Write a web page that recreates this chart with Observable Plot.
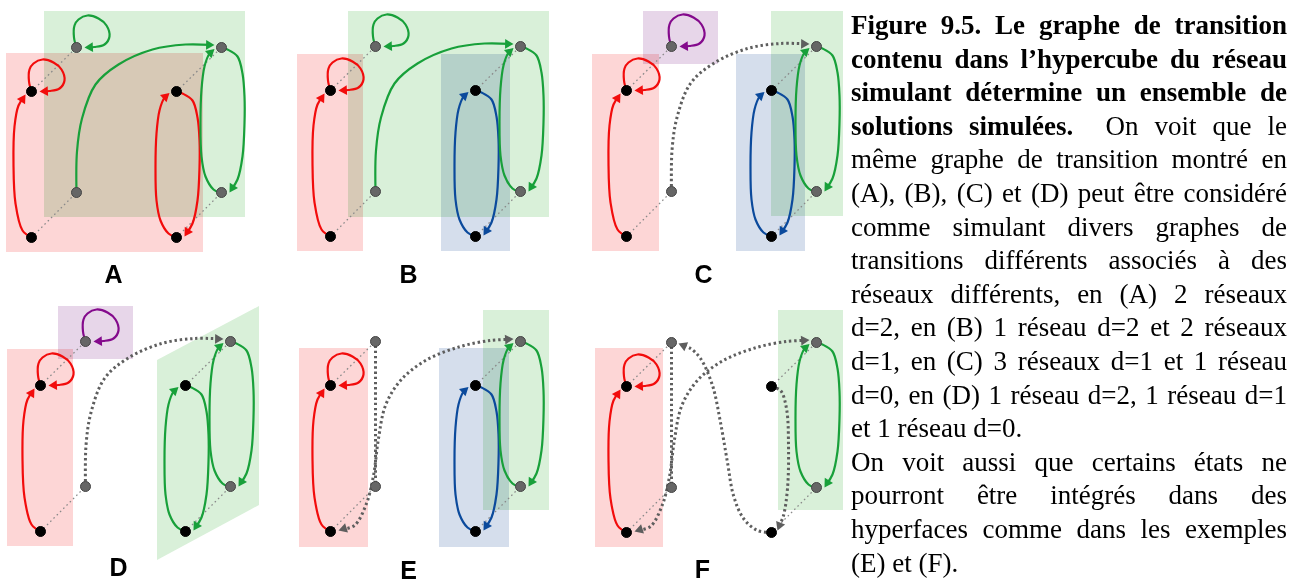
<!DOCTYPE html>
<html>
<head>
<meta charset="utf-8">
<script src="https://cdn.jsdelivr.net/npm/d3@7"></script>
<script src="https://cdn.jsdelivr.net/npm/@observablehq/plot@0.6"></script>
<style>
  html, body { margin: 0; padding: 0; background: #fff; }
  #wrap { position: relative; width: 1301px; height: 584px; overflow: hidden; background: #fff; }
  #chart { position: absolute; left: 0; top: 0; }
  #caption { position: absolute; left: 851px; top: 9px; width: 436px;
    font-family: "Liberation Serif", "Times New Roman", serif; font-size: 27px;
    line-height: 33.6px; color: #000; }
  #caption .ln { text-align: justify; text-align-last: justify; white-space: normal; }
  #caption .ln.last { text-align-last: left; }
</style>
</head>
<body>
<div id="wrap"><div id="chart"></div><div id="caption"></div></div>
<script>
// ---------- data ----------
const panelNames = ["A", "B", "C", "D", "E", "F"];
const originX = [31, 330, 626, 40, 330, 626];
const originY = [91, 90, 90, 385, 385, 386];
const labelX = [113, 408, 703, 118, 408, 702];
const labelY = [274, 274, 274, 567, 570, 569];

// cube nodes, relative to the front top-left (black) node
const nodeNames = ["b00", "b01", "b10", "b11", "g00", "g01", "g10", "g11"];
const nodeX = [0, 0, 145, 145, 45, 45, 190, 190];
const nodeY = [0, 146, 0, 146, -44, 101, -44, 101];
const nodeKind = ["front", "front", "front", "front", "back", "back", "back", "back"];
const diagFrom = ["b00", "b01", "b10", "b11"];
const diagTo = ["g00", "g01", "g10", "g11"];

// edge shapes
const loopX = [0, -2.5, -2, 2, 11, 22, 30, 33, 28, 18, 8];
const loopY = [0, -10, -22, -28, -32, -29, -22, -11, -3, -0.5, 0];
const leftArcX = [0, -9, -16, -18, -17, -13, -6];
const leftArcY = [146, 139, 112, 73, 35, 14, 3];
const ellDownX = [0, 6, 16, 21, 23, 23, 21, 16, 8];
const ellDownY = [0, 2, 9, 26, 49, 76, 109, 132, 145];
const ellUpX = [0, -8, -16, -20, -21, -20, -17, -12, -7];
const ellUpY = [146, 142, 129, 109, 76, 42, 19, 6, 1.5];
const arcX = [45, 45.5, 50.5, 64, 87, 121, 154, 183];
const arcY = [101, 60, 27, -7, -27, -42, -47, -46.5];
const longArcX = [8, 24, 36, 43, 48, 55, 70, 95, 130, 160, 183];
const longArcY = [145, 140, 118, 90, 53, 20, -5, -25, -39, -45, -46.5];
const vertX = [45, 45];
const vertY = [-40, 97];
const sCurveX = [145, 131, 117, 107, 101, 94, 86, 74, 64, 52];
const sCurveY = [146, 144, 132, 109, 76, 36, -1, -28, -38, -43];
const rightDropX = [145, 154, 160, 162, 161, 157, 151];
const rightDropY = [0, 4, 22, 59, 102, 129, 144];

// [shape, anchor node, network colour]
const edgesA = [["loop","b00","red"],["loop","g00","green"],["leftArc","b00","red"],["arc","b00","green"],
  ["ellDown","b10","red"],["ellUp","b10","red"],["ellDown","g10","green"],["ellUp","g10","green"]];
const edgesB = [["loop","b00","red"],["loop","g00","green"],["leftArc","b00","red"],["arc","b00","green"],
  ["ellDown","b10","blue"],["ellUp","b10","blue"],["ellDown","g10","green"],["ellUp","g10","green"]];
const edgesC = [["loop","b00","red"],["loop","g00","purple"],["leftArc","b00","red"],["arc","b00","none"],
  ["ellDown","b10","blue"],["ellUp","b10","blue"],["ellDown","g10","green"],["ellUp","g10","green"]];
const edgesD = [["loop","b00","red"],["loop","g00","purple"],["leftArc","b00","red"],["arc","b00","none"],
  ["ellDown","b10","green"],["ellUp","b10","green"],["ellDown","g10","green"],["ellUp","g10","green"]];
const edgesE = [["loop","b00","red"],["leftArc","b00","red"],["vert","b00","none"],["longArc","b00","none"],
  ["ellDown","b10","blue"],["ellUp","b10","blue"],["ellDown","g10","green"],["ellUp","g10","green"]];
const edgesF = [["loop","b00","red"],["leftArc","b00","red"],["vert","b00","none"],["longArc","b00","none"],
  ["sCurve","b00","none"],["rightDrop","b00","none"],["ellDown","g10","green"],["ellUp","g10","green"]];

// hyperfaces (networks) as rectangles
const rectNet = ["red","green", "red","green","blue", "purple","red","blue","green", "purple","red", "red","blue","green", "red","green"];
const rectX1 = [6, 44, 297, 348, 441, 643, 592, 736, 771, 58, 7, 299, 439, 483, 595, 778];
const rectX2 = [203, 245, 363, 549, 510, 718, 659, 805, 843, 133, 73, 368, 509, 549, 663, 843];
const rectY1 = [53, 11, 54, 11, 54, 11, 54, 54, 11, 306, 349, 348, 348, 310, 348, 310];
const rectY2 = [252, 217, 251, 217, 251, 64, 251, 251, 216, 359, 546, 547, 547, 510, 547, 510];
// slanted face in D
const slantX = [157, 259];
const slantTop = [360, 306];
const slantBottom = [560, 505];

const captionLines = [
  ["Figure 9.5. Le graphe de transition", ""],
  ["contenu dans l\u2019hypercube du réseau", ""],
  ["simulant détermine un ensemble de", ""],
  ["solutions simulées.", "\u00a0 On voit que le"],
  ["", "même graphe de transition montré en"],
  ["", "(A), (B), (C) et (D) peut être considéré"],
  ["", "comme simulant divers graphes de"],
  ["", "transitions différents associés à des"],
  ["", "réseaux différents, en (A) 2 réseaux"],
  ["", "d=2, en (B) 1 réseau d=2 et 2 réseaux"],
  ["", "d=1, en (C) 3 réseaux d=1 et 1 réseau"],
  ["", "d=0, en (D) 1 réseau d=2, 1 réseau d=1"],
  ["", "et 1 réseau d=0."],
  ["", "On voit aussi que certains états ne"],
  ["", "pourront être intégrés dans des"],
  ["", "hyperfaces comme dans les exemples"],
  ["", "(E) et (F)."]
];
const paragraphEnds = [12, 16];

// ---------- styles ----------
const faceFill = {red: "#fdd6d6", green: "#d9f0d9", blue: "#d5deec", purple: "#e7d6e9"};
const edgeStroke = {red: "#f20c0c", green: "#18a03a", blue: "#0b4a9c", purple: "#840a8c", none: "#5e5e5e"};

// ---------- build ----------
const shapes = {
  loop: {x: loopX, y: loopY, arrow: "end"},
  leftArc: {x: leftArcX, y: leftArcY, arrow: "end"},
  ellDown: {x: ellDownX, y: ellDownY, arrow: "end"},
  ellUp: {x: ellUpX, y: ellUpY, arrow: "end"},
  arc: {x: arcX, y: arcY, arrow: "end"},
  longArc: {x: longArcX, y: longArcY, arrow: "both"},
  vert: {x: vertX, y: vertY, arrow: "none"},
  sCurve: {x: sCurveX, y: sCurveY, arrow: "end"},
  rightDrop: {x: rightDropX, y: rightDropY, arrow: "end"}
};
const panelEdges = [edgesA, edgesB, edgesC, edgesD, edgesE, edgesF];

const R_HEAD = 3.6;
const TIP = R_HEAD * 1.555, TRIM = 4;
const solidRows = [], dottedRows = [], heads = [];
panelNames.forEach((p, i) => {
  panelEdges[i].forEach(([shape, anchor, net], k) => {
    const s = shapes[shape];
    const a = nodeNames.indexOf(anchor);
    const ax = originX[i] + nodeX[a], ay = originY[i] + nodeY[a];
    const pts = s.x.map((dx, j) => [ax + dx, ay + s.y[j]]);
    const color = edgeStroke[net];
    const addHead = (tipIdx, prevIdx) => {
      const tip = pts[tipIdx], prev = pts[prevIdx];
      let ux = tip[0] - prev[0], uy = tip[1] - prev[1];
      const L = Math.hypot(ux, uy); ux /= L; uy /= L;
      heads.push({x: tip[0] - ux * TIP, y: tip[1] - uy * TIP,
                  angle: Math.atan2(ux, -uy) * 180 / Math.PI, color});
      pts[tipIdx] = [tip[0] - ux * TRIM, tip[1] - uy * TRIM];
    };
    if (s.arrow === "end" || s.arrow === "both") addHead(pts.length - 1, pts.length - 2);
    if (s.arrow === "both") addHead(0, 1);
    const rows = net === "none" ? dottedRows : solidRows;
    pts.forEach(([x, y]) => rows.push({id: p + k, x, y, color}));
  });
});

const nodes = [], diags = [];
panelNames.forEach((p, i) => {
  nodeNames.forEach((n, j) => nodes.push({x: originX[i] + nodeX[j], y: originY[i] + nodeY[j], kind: nodeKind[j]}));
  diagFrom.forEach((f, j) => {
    const a = nodeNames.indexOf(f), b = nodeNames.indexOf(diagTo[j]);
    diags.push({x1: originX[i] + nodeX[a], y1: originY[i] + nodeY[a], x2: originX[i] + nodeX[b], y2: originY[i] + nodeY[b]});
  });
});

const rects = rectNet.map((n, i) => ({net: n, x1: rectX1[i], x2: rectX2[i], y1: rectY1[i], y2: rectY2[i]}));
const slant = slantX.map((x, i) => ({x, y1: slantTop[i], y2: slantBottom[i]}));

const chart = Plot.plot({
  width: 846, height: 584,
  marginTop: 0, marginRight: 0, marginBottom: 0, marginLeft: 0,
  x: {domain: [0, 846], range: [0, 846], axis: null},
  y: {domain: [0, 584], range: [0, 584], axis: null},
  color: {type: "identity"},
  style: {background: "transparent", overflow: "visible"},
  marks: [
    Plot.rect(rects, {x1: "x1", x2: "x2", y1: "y1", y2: "y2", fill: d => faceFill[d.net], mixBlendMode: "multiply"}),
    Plot.areaY(slant, {x: "x", y1: "y1", y2: "y2", fill: faceFill.green, mixBlendMode: "multiply"}),
    Plot.link(diags, {x1: "x1", y1: "y1", x2: "x2", y2: "y2", stroke: "#8a8a8a", strokeWidth: 1.3, strokeDasharray: "1.6,3"}),
    Plot.line(dottedRows, {x: "x", y: "y", z: "id", stroke: "color", strokeWidth: 3, strokeDasharray: "2.4,2.8", strokeLinecap: "butt", curve: "catmull-rom"}),
    Plot.line(solidRows, {x: "x", y: "y", z: "id", stroke: "color", strokeWidth: 2.2, curve: "catmull-rom"}),
    Plot.dot(heads, {x: "x", y: "y", r: R_HEAD, symbol: "triangle", fill: "color", stroke: "none", rotate: "angle"}),
    Plot.dot(nodes, {x: "x", y: "y", r: 5, fill: d => d.kind === "front" ? "#000000" : "#666666",
                     stroke: d => d.kind === "front" ? "#000000" : "#444444", strokeWidth: 1}),
    Plot.text(panelNames, {x: (d, i) => labelX[i], y: (d, i) => labelY[i], text: d => d,
      fontSize: 25, fontWeight: "bold", fontFamily: "Liberation Sans, Arial, sans-serif", fill: "#000", textAnchor: "middle", lineAnchor: "middle"})
  ]
});
document.getElementById("chart").appendChild(chart);

const cap = document.getElementById("caption");
captionLines.forEach(([b, t], i) => {
  const div = document.createElement("div");
  div.className = "ln" + (paragraphEnds.includes(i) ? " last" : "");
  if (b) { const el = document.createElement("b"); el.textContent = b; div.appendChild(el); }
  if (t) div.appendChild(document.createTextNode(t));
  cap.appendChild(div);
});
</script>
</body>
</html>
